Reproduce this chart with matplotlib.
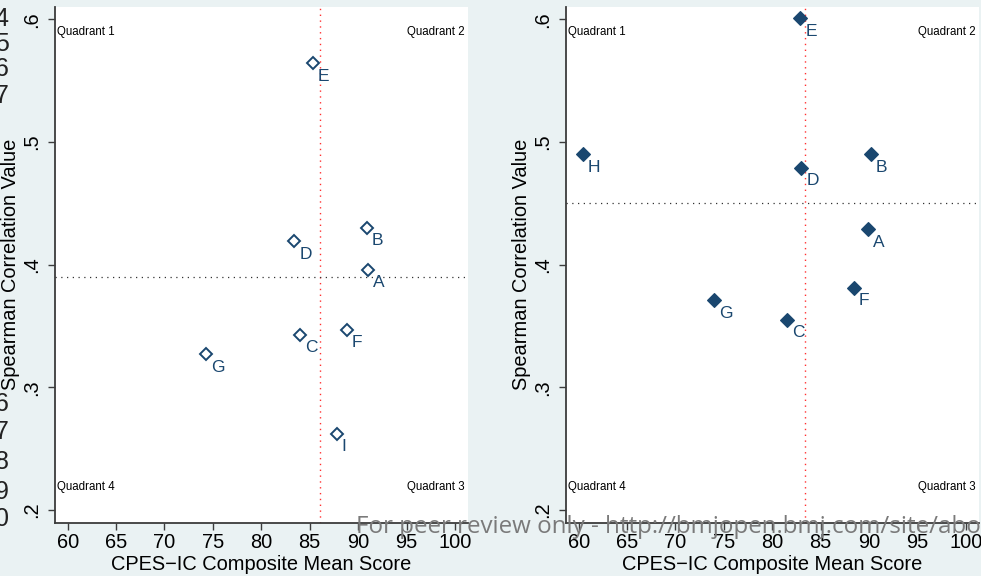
import matplotlib
matplotlib.use("Agg")
import matplotlib.pyplot as plt

# ---- data ----
left_labels = ['A', 'B', 'C', 'D', 'E', 'F', 'G', 'I']
left_x = [91.0, 90.9, 84.0, 83.4, 85.3, 88.8, 74.3, 87.8]
left_y = [0.396, 0.430, 0.343, 0.419, 0.564, 0.347, 0.327, 0.262]
left_vline = 86.1
left_hline = 0.39

right_labels = ['A', 'B', 'C', 'D', 'E', 'F', 'G', 'H']
right_x = [89.9, 90.2, 81.5, 83.0, 82.9, 88.4, 74.0, 60.4]
right_y = [0.429, 0.490, 0.355, 0.479, 0.601, 0.381, 0.371, 0.490]
right_vline = 83.4
right_hline = 0.45

x_ticks = [60, 65, 70, 75, 80, 85, 90, 95, 100]
y_ticks = [0.2, 0.3, 0.4, 0.5, 0.6]
y_tick_labels = ['.2', '.3', '.4', '.5', '.6']
quadrant_names = ['Quadrant 1', 'Quadrant 2', 'Quadrant 3', 'Quadrant 4']

x_title = 'CPES\u2212IC Composite Mean Score'
y_title = 'Spearman Correlation Value'
watermark = 'For peer review only - http://bmjopen.bmj.com/site/about/guidelines.xhtml'
margin_digits_top = ['4', '5', '6', '7']
margin_digits_bottom = ['6', '7', '8', '9', '0']

# ---- style ----
BG = '#EAF2F3'
NAVY = '#1a476f'
FONT = 'Liberation Sans'
plt.rcParams['font.family'] = [FONT, 'DejaVu Sans']

W, H = 981, 576
fig = plt.figure(figsize=(W / 100, H / 100), dpi=100, facecolor=BG)

def px_axes(x0, x1, y0, y1):
    return fig.add_axes([x0 / W, 1 - y1 / H, (x1 - x0) / W, (y1 - y0) / H])

def draw_panel(ax, xs, ys, labels, vline, hline, filled):
    ax.set_facecolor('white')
    ax.set_xlim(58.69, 101.35)
    ax.set_ylim(0.1898, 0.6100)
    for s in ['top', 'right']:
        ax.spines[s].set_visible(False)
    for s in ['left', 'bottom']:
        ax.spines[s].set_color('#3c3c3c')
        ax.spines[s].set_linewidth(1.3)
    ax.axvline(vline, color='#ff3030', lw=1.0, ls=(0, (1, 3.2)), zorder=1)
    ax.axhline(hline, color='#333333', lw=0.9, ls=(0, (1, 3.6)), zorder=1)
    if filled:
        ax.plot(xs, ys, ls='none', marker='D', ms=7.2, mfc=NAVY, mec=NAVY,
                mew=0.8, zorder=3, clip_on=False)
    else:
        ax.plot(xs, ys, ls='none', marker='D', ms=6.6, mfc='none', mec=NAVY,
                mew=1.4, zorder=3, clip_on=False)
    for x, y, t in zip(xs, ys, labels):
        ax.annotate(t, (x, y), xytext=(3.6, -9.4), textcoords='offset points',
                    ha='left', va='center', fontsize=12.5, color=NAVY,
                    family=FONT, zorder=4)
    ax.set_xticks(x_ticks)
    ax.set_xticklabels([str(v) for v in x_ticks])
    ax.set_yticks(y_ticks)
    ax.set_yticklabels(y_tick_labels, rotation=90, va='center')
    ax.tick_params(axis='both', length=5, width=1.0, color='#3c3c3c',
                   labelsize=14.4, labelcolor='black')
    ax.tick_params(axis='x', pad=2.5)
    ax.tick_params(axis='y', pad=5)
    ax.set_xlabel(x_title, fontsize=14.4, labelpad=2.5)
    ax.set_ylabel(y_title, fontsize=14.4, labelpad=1.5)
    q = dict(fontsize=8.3, color='black', transform=ax.transAxes)
    ax.text(0.005, 0.951, quadrant_names[0], ha='left', va='center', **q)
    ax.text(0.993, 0.951, quadrant_names[1], ha='right', va='center', **q)
    ax.text(0.993, 0.069, quadrant_names[2], ha='right', va='center', **q)
    ax.text(0.005, 0.069, quadrant_names[3], ha='left', va='center', **q)

ax1 = px_axes(55, 468, 7, 522.5)
draw_panel(ax1, left_x, left_y, left_labels, left_vline, left_hline, filled=False)
ax2 = px_axes(566, 979, 7, 522.5)
draw_panel(ax2, right_x, right_y, right_labels, right_vline, right_hline, filled=True)

# page line numbers (cut off at left margin)
top_pos = [19, 44, 69, 96]
bot_pos = [404, 432, 462, 492, 519]
for d, yp in zip(margin_digits_top + margin_digits_bottom, top_pos + bot_pos):
    fig.text(8.5 / W, 1 - yp / H, d, ha='right', va='center', fontsize=18,
             color='#222222', family=FONT)

# review watermark
fig.text(356 / W, 1 - 527 / H, watermark, ha='left', va='center', fontsize=17.4,
         color='#7a7a7a', family=['Open Sans', 'DejaVu Sans'], zorder=10)

fig.savefig('out.png', dpi=100, facecolor=BG)
